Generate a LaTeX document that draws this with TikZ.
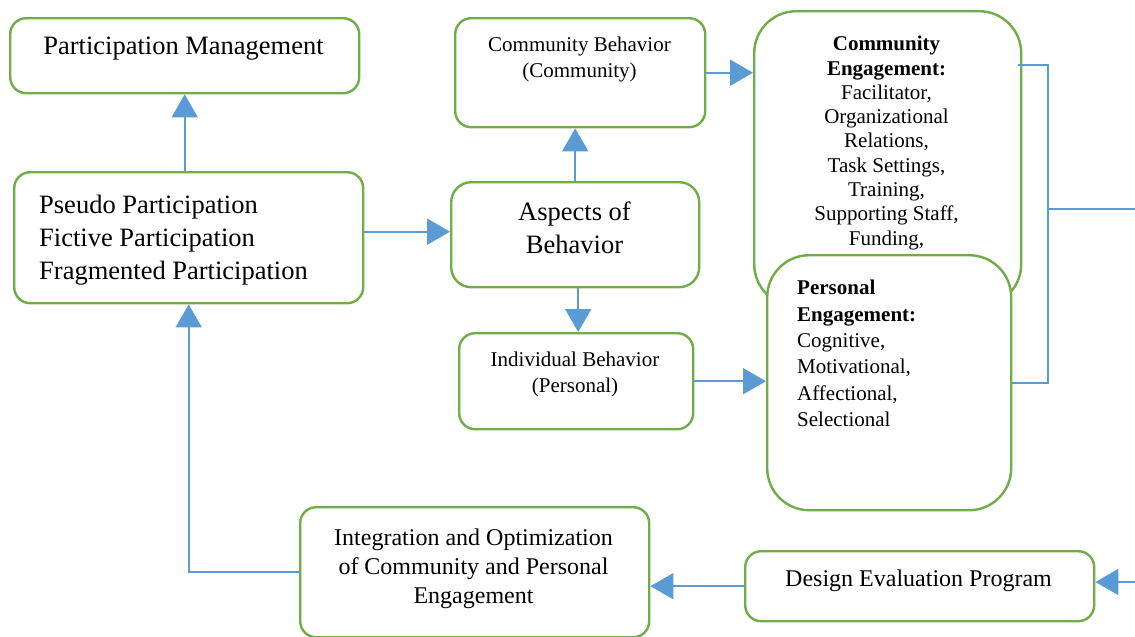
\documentclass[tikz,border=0pt]{standalone}
\usepackage{fontspec}
\setmainfont{Liberation Serif}
\usetikzlibrary{arrows.meta}
\definecolor{boxgreen}{HTML}{70AD47}
\definecolor{linkblue}{HTML}{5B9BD5}
\begin{document}
\begin{tikzpicture}[x=1pt,y=-1pt,
  box/.style={draw=boxgreen,line width=2.4pt,fill=white,rounded corners=16pt,anchor=north west},
  wire/.style={draw=linkblue,line width=1.6pt},
  flow/.style={draw=linkblue,line width=2pt,-{Triangle[length=23pt,width=26pt]}},
  big/.style={font=\fontsize{26.5}{33}\selectfont},
  mid/.style={font=\fontsize{24}{29}\selectfont},
  small/.style={font=\fontsize{21}{26}\selectfont}]
\tikzstyle{every node}+=[inner sep=0pt]
\clip (0,0) rectangle (1135,637);
\node [box,minimum width=349pt,minimum height=75pt] (pm) at (9,17) {};
\node [big,anchor=north] (pm-t) at (183.5,37) {Participation Management};
\node [box,minimum width=349pt,minimum height=131pt] (pseudo) at (13,171) {};
\node [big,anchor=north west,align=left] (pseudo-t) at (39,194.5) {Pseudo Participation\\Fictive Participation\\Fragmented Participation};
\node [box,rounded corners=20pt,minimum width=248pt,minimum height=105pt] (aspects) at (450,181) {};
\node [big,anchor=north,align=center] (aspects-t) at (574.5,202) {Aspects of\\Behavior};
\node [box,minimum width=250pt,minimum height=109pt] (commbeh) at (454,17) {};
\node [small,anchor=north,align=center] (commbeh-t) at (579.5,37) {Community Behavior\\(Community)};
\node [box,minimum width=234pt,minimum height=96pt] (indbeh) at (458,332) {};
\node [small,anchor=north,align=center] (indbeh-t) at (575,352) {Individual Behavior\\(Personal)};
\node [box,rounded corners=42pt,minimum width=267pt,minimum height=295pt] (commeng) at (753,10) {};
\node [font=\fontsize{21}{24.3}\selectfont,anchor=north,align=center] (commeng-t) at (886.5,36) {\textbf{Community}\\\textbf{Engagement:}\\Facilitator,\\Organizational\\Relations,\\Task Settings,\\Training,\\Supporting Staff,\\Funding,};
\node [box,rounded corners=42pt,minimum width=244pt,minimum height=255pt] (perseng) at (766,254) {};
\node [font=\fontsize{21}{26.4}\selectfont,anchor=north west,align=left] (perseng-t) at (797,280) {\textbf{Personal}\\\textbf{Engagement:}\\Cognitive,\\Motivational,\\Affectional,\\Selectional};
\node [box,minimum width=349pt,minimum height=70pt] (design) at (744,550) {};
\node [mid,anchor=north] (design-t) at (918.5,570) {Design Evaluation Program};
\node [box,minimum width=349pt,minimum height=130pt] (integ) at (299,506) {};
\node [mid,anchor=north,align=center] (integ-t) at (473.5,529) {Integration and Optimization\\of Community and Personal\\Engagement};
\coordinate (feed) at (1135,582);
\coordinate (bt) at (1048,65);
\coordinate (out) at (1135,209);
\draw [flow] (pm.south |- pseudo.north) -- (pm.south);
\draw [flow] ([yshift=3pt]pseudo.east |- aspects.west) -- ([yshift=3pt]aspects.west);
\draw [flow] (aspects.north) -- (aspects.north |- commbeh.south);
\draw [flow] ([xshift=3pt]aspects.south) -- ([xshift=3pt]aspects.south |- indbeh.north);
\draw [flow] (commbeh.east) -- (commbeh.east -| commeng.west);
\draw [flow] (indbeh.east) -- (indbeh.east -| perseng.west);
\draw [flow] (integ.west) -| (pseudo.south);
\draw [flow] (design.west) -- (design.west -| integ.east);
\draw [flow] (feed) -- (feed -| design.east);
\draw [wire] ([xshift=-4pt]bt -| commeng.east) -- (bt) -- (bt |- perseng.east) -- (perseng.east);
\draw [wire] (out -| bt) -- (out);
\end{tikzpicture}
\end{document}
